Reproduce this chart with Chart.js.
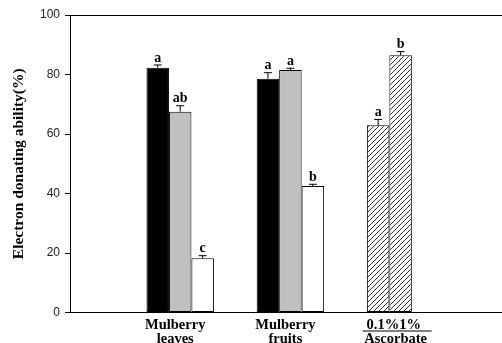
<!DOCTYPE html>
<html lang="en">

<head>
    <meta charset="UTF-8" />
    <title>Electron donating ability</title>
    <script src="https://cdn.jsdelivr.net/npm/chart.js"></script>
    <style>
        html, body { margin: 0; padding: 0; background: #fff; }
        #wrap { width: 502px; height: 343px; }
    </style>
</head>

<body>
    <div id="wrap"><canvas id="myChart"></canvas></div>

    <script>
        // data
        const categories = [["Mulberry", "leaves"], ["Mulberry", "fruits"], ["0.1%1% ", "Ascorbate"]];
        const catPos = [1, 2, 3];
        const series1 = [82.3, 78.6, 62.9];
        const series2 = [67.5, 81.5, 86.5];
        const series3 = [18.2, 42.5, null];
        const err1 = [0.9, 2.0, 2.0];
        const err2 = [2.0, 0.6, 1.2];
        const err3 = [0.9, 0.6, null];
        const letters1 = ["a", "a", "a"];
        const letters2 = ["ab", "a", "b"];
        const letters3 = ["c", "b", null];
        const yTicks = [0, 20, 40, 60, 80, 100];

        const serif = "'Liberation Serif', 'DejaVu Serif', serif";
        const labelShift = -5;

        // hatch pattern for the ascorbate bars
        const tile = document.createElement("canvas");
        tile.width = 5;
        tile.height = 5;
        const tctx = tile.getContext("2d");
        tctx.fillStyle = "#fff";
        tctx.fillRect(0, 0, 5, 5);
        tctx.strokeStyle = "#000";
        tctx.lineWidth = 0.8;
        tctx.beginPath();
        tctx.moveTo(-1, 6); tctx.lineTo(6, -1);
        tctx.moveTo(-1, 1); tctx.lineTo(1, -1);
        tctx.moveTo(4, 6); tctx.lineTo(6, 4);
        tctx.stroke();
        const hatch = tctx.createPattern(tile, "repeat");

        const toPoints = (vals) => vals.map((v, i) => ({ x: catPos[i], y: v }));

        const errors = [err1, err2, err3];
        const letters = [letters1, letters2, letters3];

        const errorBars = {
            id: "errorBars",
            afterDatasetsDraw(chart) {
                const ctx = chart.ctx;
                const y = chart.scales.y;
                ctx.save();
                ctx.strokeStyle = "#000";
                ctx.lineWidth = 1;
                ctx.fillStyle = "#000";
                ctx.font = "bold 14px " + serif;
                ctx.textAlign = "center";
                ctx.textBaseline = "bottom";
                chart.data.datasets.forEach((ds, d) => {
                    const meta = chart.getDatasetMeta(d);
                    meta.data.forEach((bar, i) => {
                        const v = ds.data[i].y;
                        if (v == null) return;
                        const top = y.getPixelForValue(v + errors[d][i]);
                        ctx.beginPath();
                        ctx.moveTo(bar.x, bar.y);
                        ctx.lineTo(bar.x, top);
                        ctx.moveTo(bar.x - 4, top);
                        ctx.lineTo(bar.x + 4, top);
                        ctx.stroke();
                        if (letters[d][i]) ctx.fillText(letters[d][i], bar.x, top);
                    });
                });
                ctx.restore();
            },
            afterDraw(chart) {
                const ctx = chart.ctx;
                const a = chart.chartArea;
                const x = chart.scales.x;
                ctx.save();
                ctx.strokeStyle = "#000";
                ctx.lineWidth = 1;
                ctx.beginPath();
                ctx.moveTo(a.left, a.top + 0.5);
                ctx.lineTo(a.right, a.top + 0.5);
                // underline under "0.1%1%"
                const cx = x.getPixelForValue(catPos[2]) + labelShift;
                ctx.moveTo(cx - 33, x.top + 18.5);
                ctx.lineTo(cx + 36, x.top + 18.5);
                ctx.stroke();
                ctx.restore();
            }
        };

        const data = {
            datasets: [
                {
                    data: toPoints(series1),
                    backgroundColor: ["#000", "#000", hatch],
                },
                {
                    data: toPoints(series2),
                    backgroundColor: ["#c0c0c0", "#c0c0c0", hatch],
                },
                {
                    data: toPoints(series3),
                    backgroundColor: "#fff",
                },
            ],
        };

        const config = {
            type: "bar",
            data: data,
            options: {
                responsive: true,
                maintainAspectRatio: false,
                animation: false,
                layout: { padding: { top: 15, right: 0, left: 0, bottom: 0 } },
                datasets: {
                    bar: {
                        borderColor: "#000",
                        borderWidth: 1,
                        borderSkipped: false,
                        categoryPercentage: 0.612,
                        barPercentage: 1,
                    },
                },
                plugins: {
                    legend: { display: false },
                    tooltip: { enabled: false },
                },
                scales: {
                    x: {
                        type: "linear",
                        min: 0,
                        max: 3.92,
                        offset: false,
                        afterBuildTicks: (scale) => {
                            scale.ticks = catPos.map((v) => ({ value: v }));
                        },
                        afterFit: (scale) => { scale.height = 30.5; },
                        grid: { display: false, drawTicks: false },
                        border: { color: "#000", width: 1 },
                        ticks: {
                            autoSkip: false,
                            maxRotation: 0,
                            padding: 5,
                            labelOffset: labelShift,
                            color: "#000",
                            font: { family: serif, size: 14.5, weight: "bold", lineHeight: 1.0 },
                            callback: (v) => categories[catPos.indexOf(v)],
                        },
                    },
                    y: {
                        min: 0,
                        max: 100,
                        afterBuildTicks: (scale) => {
                            scale.ticks = yTicks.map((v) => ({ value: v }));
                        },
                        afterFit: (scale) => { scale.width = 70; },
                        grid: { drawOnChartArea: false, tickLength: 5, color: "#000" },
                        border: { color: "#000", width: 1 },
                        ticks: {
                            padding: 5,
                            color: "#222",
                            font: { family: "'Liberation Sans', Arial, sans-serif", size: 12 },
                        },
                        title: {
                            display: true,
                            text: "Electron donating ability(%)",
                            color: "#000",
                            padding: { top: 10, bottom: 0 },
                            font: { family: serif, size: 15.5, weight: "bold" },
                        },
                    },
                },
            },
            plugins: [errorBars],
        };

        const myChart = new Chart(document.getElementById("myChart"), config);
    </script>
</body>

</html>
